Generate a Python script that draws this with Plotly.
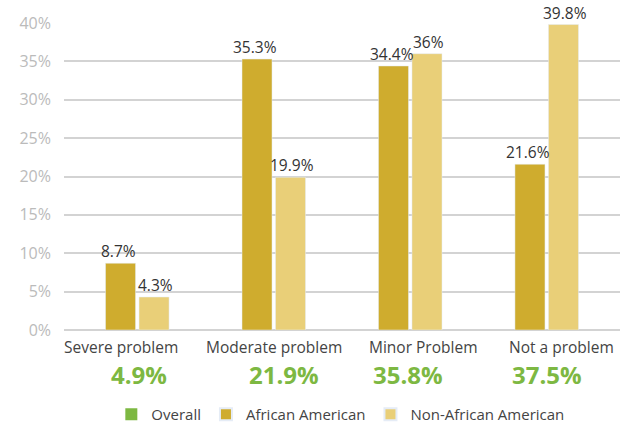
import plotly.graph_objects as go

categories = ["Severe problem", "Moderate problem", "Minor Problem", "Not a problem"]
overall = [4.9, 21.9, 35.8, 37.5]
african_american = [8.7, 35.3, 34.4, 21.6]
non_african_american = [4.3, 19.9, 36.0, 39.8]
y_ticks = [0, 5, 10, 15, 20, 25, 30, 35, 40]

# style: horizontal pixel nudges for text beneath the axis
cat_label_shift = [-16, 0, 13, 15]
overall_label_shift = [2, 10, -2, 0]
bar_offset_px = 18.5

C_AA = "#CFAC2E"
C_NAA = "#E9CF78"
C_OVR = "#7DB842"
FONT = "Open Sans, sans-serif"

def fmt(v):
    return f"{v:g}%"

fig = go.Figure()
fig.add_trace(go.Scatter(
    x=[categories[0]], y=[None], mode="markers", name="Overall",
    marker=dict(symbol="square", size=11, color=C_OVR), showlegend=True))
fig.add_trace(go.Bar(x=categories, y=african_american, name="African American",
                     marker_color=C_AA))
fig.add_trace(go.Bar(x=categories, y=non_african_american, name="Non-African American",
                     marker_color=C_NAA))

for i, c in enumerate(categories):
    for vals, sgn in ((african_american, -1), (non_african_american, 1)):
        fig.add_annotation(x=c, y=vals[i], xref="x", yref="y", text=fmt(vals[i]),
                           showarrow=False, xshift=sgn * bar_offset_px, yanchor="bottom",
                           yshift=-1, font=dict(size=15.5, color="#333333", family=FONT))
    fig.add_annotation(x=c, y=0, xref="x", yref="y", text=c, showarrow=False,
                       yshift=-17, xshift=cat_label_shift[i], yanchor="middle",
                       font=dict(size=15.5, color="#444444", family=FONT))
    fig.add_annotation(x=c, y=0, xref="x", yref="y", text=f"<b>{overall[i]}%</b>",
                       showarrow=False, yshift=-44, xshift=overall_label_shift[i],
                       yanchor="middle", font=dict(size=24, color=C_OVR, family=FONT))

fig.update_layout(
    width=629, height=426,
    margin=dict(l=64, r=9, t=23, b=96, autoexpand=False),
    paper_bgcolor="white", plot_bgcolor="white",
    barmode="group", bargap=0.509, bargroupgap=0.104,
    font=dict(family=FONT),
    showlegend=True, hovermode=False,
    legend=dict(orientation="h", x=0.497, xanchor="center", yref="container",
                y=0.027, yanchor="middle", itemwidth=30,
                font=dict(size=15, color="#444444", family=FONT),
                itemsizing="constant", traceorder="normal"),
    xaxis=dict(range=[-0.537, 3.537], showticklabels=False, showgrid=False,
               zeroline=False, showline=False, fixedrange=True),
    yaxis=dict(range=[0, 40], tickvals=y_ticks, ticktext=[f"{t}%" for t in y_ticks],
               showgrid=True, gridcolor="#D3D3D3", gridwidth=1.5,
               zeroline=True, zerolinecolor="#D3D3D3", zerolinewidth=1.5,
               showline=False, ticklabelstandoff=12, automargin=False, fixedrange=True,
               tickfont=dict(size=16, color="#BBBBBB", family=FONT)),
)

fig.write_html("out.html", config={"displayModeBar": False},
               post_script="document.body.style.margin='0';document.body.style.overflow='hidden';")
